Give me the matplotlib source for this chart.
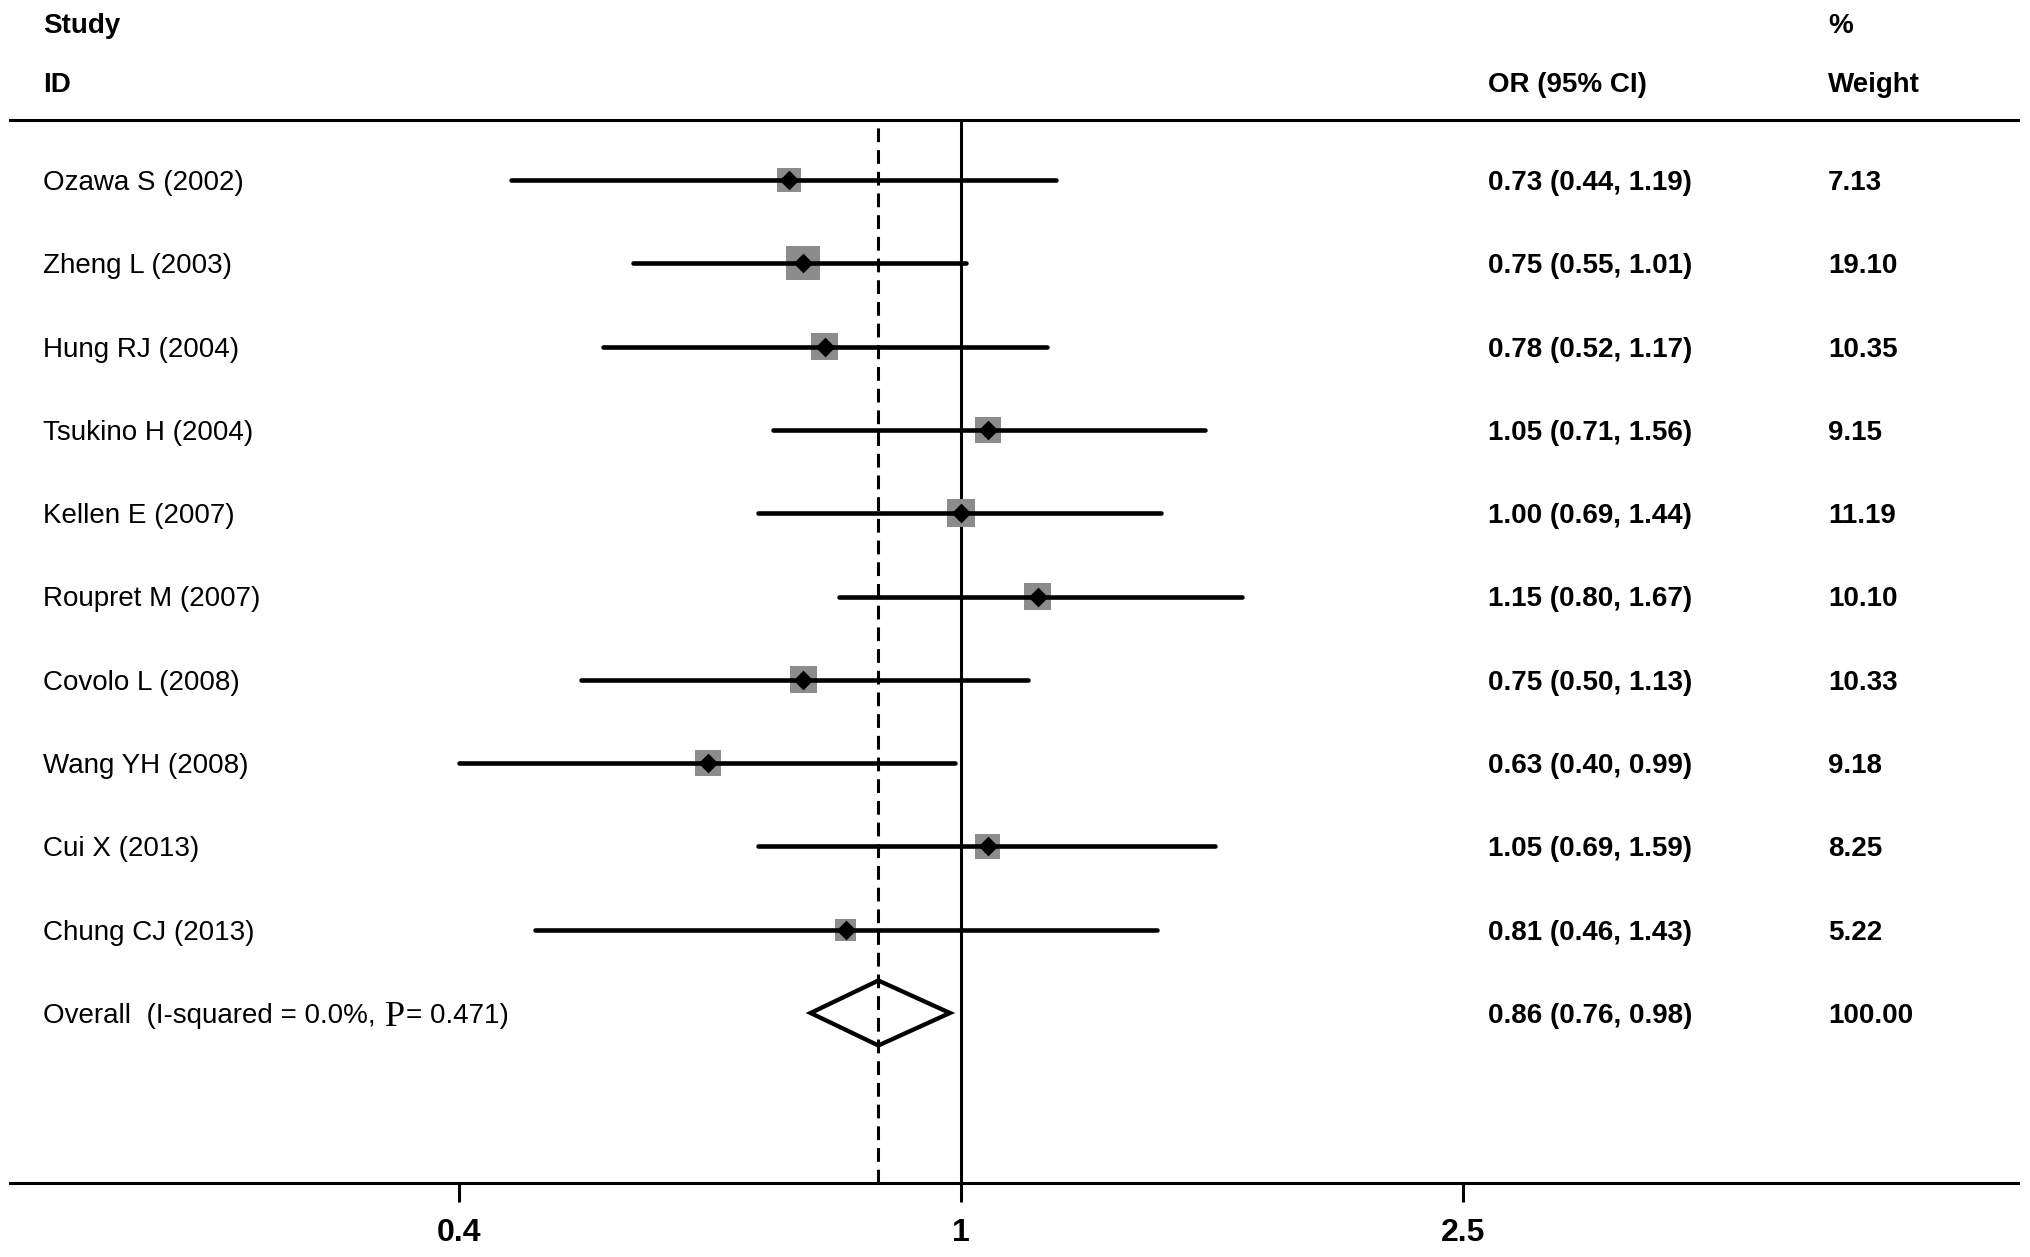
import numpy as np
import matplotlib
matplotlib.use('Agg')
import matplotlib.pyplot as plt
from matplotlib.patches import Polygon
from matplotlib.ticker import NullLocator, FixedLocator, FixedFormatter
from matplotlib.transforms import blended_transform_factory

plt.rcParams['font.family'] = ['Liberation Sans', 'DejaVu Sans']

# data
studies = ['Ozawa S (2002)', 'Zheng L (2003)', 'Hung RJ (2004)', 'Tsukino H (2004)',
           'Kellen E (2007)', 'Roupret M (2007)', 'Covolo L (2008)', 'Wang YH (2008)',
           'Cui X (2013)', 'Chung CJ (2013)']
odds = [0.73, 0.75, 0.78, 1.05, 1.00, 1.15, 0.75, 0.63, 1.05, 0.81]
lower = [0.44, 0.55, 0.52, 0.71, 0.69, 0.80, 0.50, 0.40, 0.69, 0.46]
upper = [1.19, 1.01, 1.17, 1.56, 1.44, 1.67, 1.13, 0.99, 1.59, 1.43]
weights = [7.13, 19.10, 10.35, 9.15, 11.19, 10.10, 10.33, 9.18, 8.25, 5.22]

overall_or = 0.86
overall_lo = 0.76
overall_hi = 0.98
i_squared = '0.0%'
p_value = '0.471'

tick_vals = [0.4, 1, 2.5]
tick_labels = ['0.4', '1', '2.5']

W, H = 2031, 1257
fig = plt.figure(figsize=(W / 100, H / 100), dpi=100)

# axes box in pixels: left 10, right 2018, top 120, bottom 1183
ax = fig.add_axes([10 / W, 1 - 1183 / H, 2008 / W, 1063 / H])
ax.set_xscale('log')
x0 = np.exp((10 - 961) / 548.0)
x1 = np.exp((2018 - 961) / 548.0)
ax.set_xlim(x0, x1)
ax.set_ylim((1183 - 180) / 83.3, (120 - 180) / 83.3)

for side in ['left', 'right']:
    ax.spines[side].set_visible(False)
for side in ['top', 'bottom']:
    ax.spines[side].set_linewidth(2.2)
ax.set_yticks([])
ax.xaxis.set_minor_locator(NullLocator())
ax.xaxis.set_major_locator(FixedLocator(tick_vals))
ax.xaxis.set_major_formatter(FixedFormatter(tick_labels))
ax.tick_params(axis='x', length=14, width=2.2, pad=11, labelsize=23)
for lab in ax.get_xticklabels():
    lab.set_fontweight('bold')

# reference lines
ax.axvline(1, color='black', lw=2.2, zorder=1)
ax.axvline(overall_or, color='black', lw=2.2, linestyle=(0, (4.5, 2.6)), zorder=1)

rows = np.arange(len(studies))
for i in rows:
    ax.plot([lower[i], upper[i]], [i, i], color='black', lw=3.3,
            solid_capstyle='round', zorder=3)
side_px = 8 + 6 * np.sqrt(np.array(weights))
ax.scatter(odds, rows, marker='s', s=(side_px * 0.72) ** 2, color='#8c8c8c',
           linewidths=0, zorder=2)
ax.scatter(odds, rows, marker='D', s=10 ** 2, color='black', linewidths=0, zorder=4)

# overall diamond
yo = len(studies)
dia = Polygon([[overall_lo, yo], [overall_or, yo - 0.39], [overall_hi, yo],
               [overall_or, yo + 0.39]], closed=True, fill=False,
              edgecolor='black', lw=3.1, joinstyle='miter', zorder=4)
ax.add_patch(dia)

# text columns
tr = blended_transform_factory(fig.transFigure, ax.transData)
fs = 20
va = 'center_baseline'
x_id = 43 / W
x_or = 1488 / W
x_wt = 1828 / W

fig.text(x_id, 1 - 23 / H, 'Study', fontsize=fs, fontweight='bold', va=va)
fig.text(x_id, 1 - 82 / H, 'ID', fontsize=fs, fontweight='bold', va=va)
fig.text(x_or, 1 - 82 / H, 'OR (95% CI)', fontsize=fs, fontweight='bold', va=va)
fig.text(x_wt, 1 - 23 / H, '%', fontsize=fs, fontweight='bold', va=va)
fig.text(x_wt, 1 - 82 / H, 'Weight', fontsize=fs, fontweight='bold', va=va)

for i in rows:
    ax.text(x_id, i, studies[i], transform=tr, fontsize=fs, va=va)
    ax.text(x_or, i, '%.2f (%.2f, %.2f)' % (odds[i], lower[i], upper[i]),
            transform=tr, fontsize=fs, fontweight='bold', va=va)
    ax.text(x_wt, i, '%.2f' % weights[i], transform=tr, fontsize=fs,
            fontweight='bold', va=va)

ax.text(x_or, yo, '%.2f (%.2f, %.2f)' % (overall_or, overall_lo, overall_hi),
        transform=tr, fontsize=fs, fontweight='bold', va=va)
ax.text(x_wt, yo, '%.2f' % sum(weights), transform=tr, fontsize=fs,
        fontweight='bold', va=va)

# overall label with serif "P"
t1 = ax.text(x_id, yo, 'Overall  (I-squared = %s,' % i_squared, transform=tr,
             fontsize=fs, va=va)
fig.canvas.draw()
r = fig.canvas.get_renderer()
bb = t1.get_window_extent(r)
px = bb.x1 + 9
t2 = ax.text(px / W, yo, 'P', transform=tr, fontsize=26,
             family='Liberation Serif', va=va)
bb2 = t2.get_window_extent(r)
ax.text((bb2.x1 + 1) / W, yo, '= %s)' % p_value, transform=tr, fontsize=fs,
        va=va)

fig.savefig('out.png', dpi=100)
